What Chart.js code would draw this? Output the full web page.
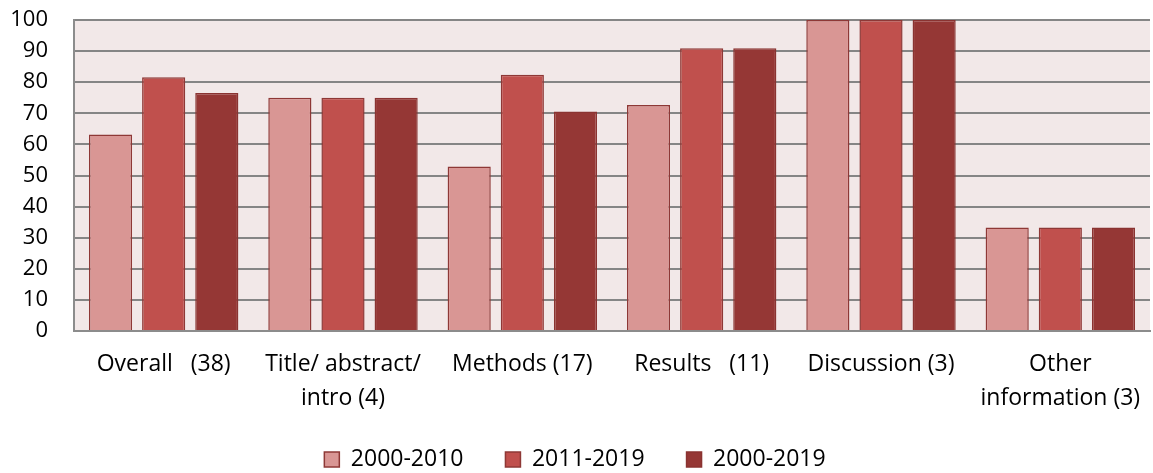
<!DOCTYPE html>
<html>
<head>
<meta charset="utf-8">
<script src="https://cdn.jsdelivr.net/npm/chart.js@4/dist/chart.umd.min.js"></script>
<style>
  html, body { margin: 0; padding: 0; background: #ffffff; }
  #wrap { width: 1153px; height: 473px; }
</style>
</head>
<body>
<div id="wrap"><canvas id="c" width="1153" height="473"></canvas></div>
<script>
// Categories (section of the checklist, number of items)
const categories = [
  'Overall   (38)',
  ['Title/ abstract/', 'intro (4)'],
  'Methods (17)',
  'Results   (11)',
  'Discussion (3)',
  ['Other', 'information (3)']
];
const seriesNames = ['2000-2010', '2011-2019', '2000-2019'];
const values2000_2010 = [63.2, 75.0, 52.9, 72.7, 100, 33.3];
const values2011_2019 = [81.6, 75.0, 82.4, 90.9, 100, 33.3];
const values2000_2019 = [76.5, 75.0, 70.6, 90.9, 100, 33.3];
const yTicks = [0, 10, 20, 30, 40, 50, 60, 70, 80, 90, 100];

const fills = ['#d99694', '#c0504d', '#953735'];
const borders = ['#8e3836', '#8e3836', '#8a3331'];
const FONT = '"Open Sans", Lato, sans-serif';

// Light pink panel behind the bars
const plotBg = {
  id: 'plotBg',
  beforeDraw(chart) {
    const { ctx, chartArea: a } = chart;
    ctx.save();
    ctx.fillStyle = '#f2e8e8';
    ctx.fillRect(a.left, a.top, a.right - a.left, a.bottom - a.top);
    ctx.restore();
  }
};

const seriesData = [values2000_2010, values2011_2019, values2000_2019];

new Chart(document.getElementById('c'), {
  type: 'bar',
  data: {
    labels: categories,
    datasets: seriesNames.map((name, i) => ({
      label: name,
      data: seriesData[i],
      backgroundColor: fills[i],
      borderColor: borders[i],
      borderWidth: 1.5,
      categoryPercentage: 0.889,
      barPercentage: 0.812
    }))
  },
  options: {
    responsive: false,
    animation: false,
    devicePixelRatio: 1,
    layout: { padding: { top: 20, right: 3, left: 0, bottom: -8 } },
    plugins: {
      tooltip: { enabled: false },
      legend: {
        position: 'bottom',
        labels: {
          font: { family: FONT, size: 23 },
          color: '#000',
          boxWidth: 15,
          boxHeight: 15,
          padding: 42,
          useBorderRadius: false
        }
      }
    },
    scales: {
      x: {
        grid: { display: false, drawTicks: false },
        border: { display: true, color: '#8c8c8c', width: 2 },
        ticks: {
          font: { family: FONT, size: 23, lineHeight: 1.5 },
          color: '#000',
          padding: 16,
          maxRotation: 0,
          autoSkip: false
        },
        afterFit(scale) {
          scale.height = 75;
          scale.paddingLeft = 0;
          scale.paddingRight = 0;
          // let the second line of the two-line category labels run below the axis box
          scale._computeLabelArea = () => undefined;
        }
      },
      y: {
        min: 0,
        max: 100,
        afterBuildTicks(scale) { scale.ticks = yTicks.map(v => ({ value: v })); },
        grid: { color: '#858585', lineWidth: 2, drawTicks: false },
        border: { display: true, color: '#8c8c8c', width: 2 },
        ticks: {
          font: { family: FONT, size: 22 },
          color: '#000',
          padding: 26,
          autoSkip: false
        },
        afterFit(scale) {
          scale.width = 74;
          scale.paddingTop = 0;
          scale.paddingBottom = 0;
        }
      }
    }
  },
  plugins: [plotBg]
});
</script>
</body>
</html>
